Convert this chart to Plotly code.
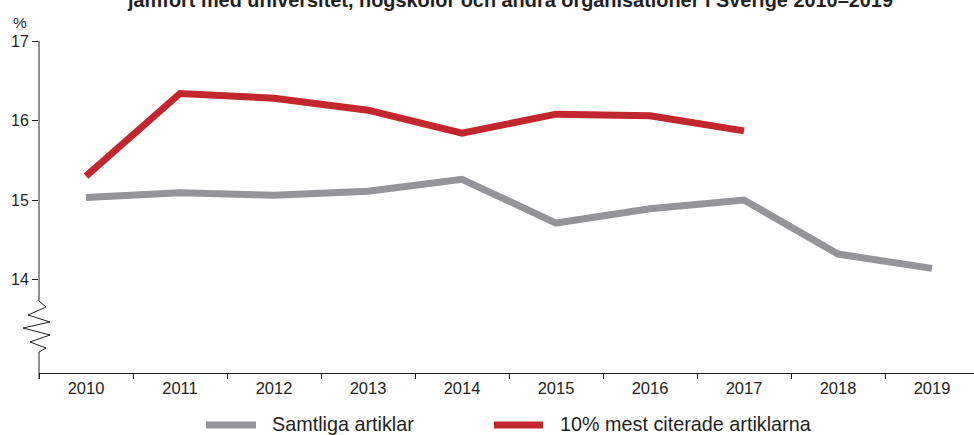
import plotly.graph_objects as go

years = ["2010", "2011", "2012", "2013", "2014", "2015", "2016", "2017", "2018", "2019"]
samtliga = [15.03, 15.09, 15.06, 15.11, 15.26, 14.71, 14.89, 15.00, 14.32, 14.14]
red_years = ["2010", "2011", "2012", "2013", "2014", "2015", "2016", "2017"]
mest_citerade = [15.30, 16.34, 16.28, 16.13, 15.84, 16.08, 16.06, 15.87]
ytick_vals = [14, 15, 16, 17]
series_names = ["Samtliga artiklar", "10% mest citerade artiklarna"]
title_text = "jämfört med universitet, högskolor och andra organisationer i Sverige 2010–2019"

GRAY = "#939598"
RED = "#c1272d"
AX = "#231f20"
W, H = 974, 435
X0, X1 = 39, 974
Y0, Y1 = 41, 373
L, T = X0, Y0
R = W - X1
B = H - Y1
PW, PH = X1 - X0, Y1 - Y0


def px(x):
    return (x - X0) / PW


def py(y):
    return (Y1 - y) / PH


fig = go.Figure()
fig.add_trace(go.Scatter(x=years, y=samtliga, mode="lines", name=series_names[0],
                         line=dict(color=GRAY, width=7), showlegend=False))
fig.add_trace(go.Scatter(x=red_years, y=mest_citerade, mode="lines", name=series_names[1],
                         line=dict(color=RED, width=7), showlegend=False))

shapes = []
shapes.append(dict(type="line", xref="paper", yref="paper", x0=0, x1=0, y0=py(41), y1=py(301),
                   line=dict(color=AX, width=1)))
zz = [(39, 301), (46, 307), (28, 315), (50, 322), (23, 328), (50, 335), (30, 342), (46, 348), (39, 352)]
path = "M " + " L ".join(f"{px(a)},{py(b)}" for a, b in zz)
shapes.append(dict(type="path", xref="paper", yref="paper", path=path, line=dict(color=AX, width=1)))
shapes.append(dict(type="line", xref="paper", yref="paper", x0=0, x1=0, y0=py(352), y1=py(379),
                   line=dict(color=AX, width=1)))
shapes.append(dict(type="line", xref="paper", yref="paper", x0=px(206), x1=px(256), y0=py(425), y1=py(425),
                   line=dict(color=GRAY, width=7)))
shapes.append(dict(type="line", xref="paper", yref="paper", x0=px(494), x1=px(543), y0=py(425), y1=py(425),
                   line=dict(color=RED, width=7)))

annotations = [
    dict(text=series_names[0], xref="paper", yref="paper", x=px(270), y=py(424), xanchor="left",
         yanchor="middle", showarrow=False, font=dict(size=19.8, color=AX)),
    dict(text=series_names[1], xref="paper", yref="paper", x=px(558), y=py(424), xanchor="left",
         yanchor="middle", showarrow=False, font=dict(size=19.8, color=AX)),
    dict(text="%", xref="paper", yref="paper", x=px(20), y=py(23), xanchor="center",
         yanchor="middle", showarrow=False, font=dict(size=15.5, color=AX)),
    dict(text="<b>" + title_text + "</b>", xref="paper", yref="paper", x=px(510), y=py(13), xanchor="center",
         yanchor="bottom", showarrow=False, font=dict(size=19.9, color=AX)),
]

fig.update_layout(
    width=W, height=H,
    margin=dict(l=L, r=R, t=T, b=B, pad=0),
    plot_bgcolor="white", paper_bgcolor="white",
    font=dict(family="Liberation Sans, Arial, sans-serif", size=15, color=AX),
    showlegend=False,
    shapes=shapes,
    annotations=annotations,
    xaxis=dict(type="category", range=[-0.5, -0.5 + PW / 94.0], tickson="boundaries",
               ticks="outside", ticklen=5, tickcolor=AX, tickwidth=1,
               showline=True, linecolor=AX, linewidth=1, showgrid=False, zeroline=False,
               tickfont=dict(size=16.5, color=AX)),
    yaxis=dict(range=[17 - PH / 79.5, 17], tickvals=ytick_vals, ticks="outside", ticklen=6,
               tickcolor=AX, tickwidth=1, showline=False, showgrid=False, zeroline=False,
               tickfont=dict(size=16, color=AX)),
)

fig.write_html("out.html", config={"displayModeBar": False},
               post_script="document.body.style.margin='0';document.body.style.overflow='hidden';")
